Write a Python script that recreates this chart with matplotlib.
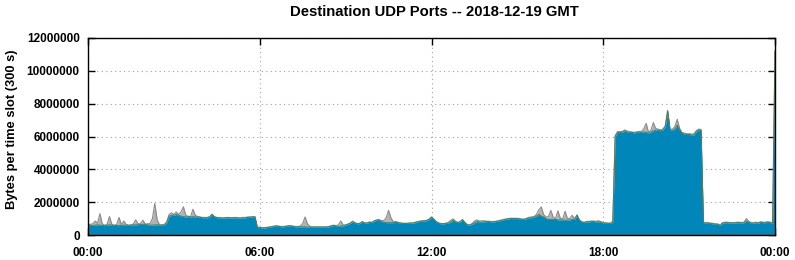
import numpy as np
import matplotlib.pyplot as plt

plt.rcParams['font.family'] = ['Liberation Sans', 'DejaVu Sans']
plt.rcParams['font.weight'] = 'bold'

# bytes per 5-minute slot (millions), one row per hour, main port (blue)
blue = [
    [0.62, 0.60, 0.58, 0.60, 0.62, 0.60, 0.58, 0.57, 0.60, 0.62, 0.60, 0.58],
    [0.58, 0.57, 0.58, 0.60, 0.60, 0.58, 0.60, 0.62, 0.62, 0.63, 0.64, 0.65],
    [0.65, 0.62, 0.60, 0.60, 0.62, 0.62, 0.60, 0.60, 0.62, 0.75, 1.15, 1.20],
    [1.20, 1.25, 1.20, 1.15, 1.12, 1.10, 1.12, 1.10, 1.12, 1.10, 1.10, 1.08],
    [1.05, 1.05, 1.05, 1.10, 1.25, 1.10, 1.05, 1.05, 1.03, 1.03, 1.05, 1.05],
    [1.03, 1.05, 1.05, 1.03, 1.03, 1.05, 1.05, 1.08, 1.08, 1.10, 1.10, 0.45],
    [0.45, 0.43, 0.43, 0.45, 0.47, 0.50, 0.52, 0.55, 0.52, 0.50, 0.50, 0.52],
    [0.55, 0.55, 0.52, 0.50, 0.50, 0.50, 0.50, 0.50, 0.48, 0.48, 0.48, 0.48],
    [0.48, 0.48, 0.48, 0.48, 0.48, 0.50, 0.55, 0.58, 0.55, 0.52, 0.55, 0.55],
    [0.60, 0.65, 0.72, 0.80, 0.72, 0.68, 0.70, 0.80, 0.72, 0.72, 0.78, 0.75],
    [0.85, 0.90, 0.90, 0.82, 0.78, 0.75, 0.75, 0.75, 0.75, 0.78, 0.75, 0.72],
    [0.70, 0.70, 0.70, 0.72, 0.72, 0.75, 0.80, 0.82, 0.85, 0.85, 0.88, 0.95],
    [1.08, 0.95, 0.80, 0.72, 0.68, 0.68, 0.70, 0.72, 0.78, 0.90, 0.80, 0.75],
    [0.80, 0.92, 0.75, 0.62, 0.60, 0.65, 0.75, 0.82, 0.80, 0.78, 0.80, 0.82],
    [0.82, 0.80, 0.80, 0.82, 0.85, 0.88, 0.92, 0.95, 0.98, 1.00, 1.00, 1.00],
    [1.00, 0.98, 0.95, 0.95, 1.00, 1.05, 1.05, 1.08, 1.15, 1.25, 1.15, 1.10],
    [1.00, 0.95, 0.95, 0.95, 0.95, 0.92, 0.92, 0.92, 0.90, 0.90, 0.92, 0.95],
    [0.95, 1.20, 0.90, 0.78, 0.75, 0.80, 0.80, 0.82, 0.82, 0.80, 0.80, 0.78],
    [0.72, 0.72, 0.70, 0.70, 0.80, 6.00, 6.25, 6.25, 6.25, 6.35, 6.28, 6.25],
    [6.25, 6.22, 6.25, 6.28, 6.25, 6.28, 6.25, 6.20, 6.28, 6.35, 6.38, 6.40],
    [6.35, 6.40, 6.60, 7.55, 6.40, 6.38, 6.45, 6.70, 6.40, 6.20, 6.15, 6.12],
    [6.12, 6.10, 6.10, 6.30, 6.40, 6.38, 0.75, 0.72, 0.72, 0.70, 0.68, 0.65],
    [0.65, 0.58, 0.72, 0.75, 0.75, 0.73, 0.73, 0.73, 0.75, 0.75, 0.73, 0.75],
    [0.85, 0.78, 0.72, 0.72, 0.75, 0.72, 0.78, 0.75, 0.75, 0.78, 0.75, 0.72],
]
blue_midnight = 11.2

# other ports (gray) stacked on top
gray = [
    [0.02, 0.05, 0.10, 0.25, 0.10, 0.70, 0.10, 0.02, 0.05, 0.50, 0.05, 0.02],
    [0.05, 0.50, 0.05, 0.25, 0.05, 0.02, 0.02, 0.05, 0.30, 0.05, 0.05, 0.25],
    [0.02, 0.02, 0.05, 0.40, 1.30, 0.30, 0.02, 0.02, 0.02, 0.05, 0.10, 0.15],
    [0.05, 0.15, 0.05, 0.25, 0.60, 0.10, 0.02, 0.02, 0.45, 0.10, 0.02, 0.02],
    [0.02, 0.02, 0.02, 0.02, 0.02, 0.02, 0.02, 0.02, 0.02, 0.02, 0.02, 0.02],
    [0.02, 0.02, 0.02, 0.02, 0.02, 0.02, 0.02, 0.02, 0.02, 0.02, 0.02, 0.02],
    [0.02, 0.02, 0.02, 0.02, 0.02, 0.02, 0.02, 0.02, 0.02, 0.02, 0.02, 0.02],
    [0.02, 0.02, 0.02, 0.02, 0.02, 0.05, 0.20, 0.60, 0.20, 0.05, 0.02, 0.02],
    [0.02, 0.02, 0.02, 0.02, 0.02, 0.02, 0.02, 0.02, 0.02, 0.10, 0.30, 0.05],
    [0.02, 0.02, 0.02, 0.05, 0.02, 0.02, 0.02, 0.02, 0.02, 0.02, 0.02, 0.02],
    [0.02, 0.02, 0.05, 0.05, 0.10, 0.30, 0.75, 0.30, 0.05, 0.05, 0.02, 0.02],
    [0.02, 0.02, 0.02, 0.02, 0.02, 0.02, 0.02, 0.02, 0.02, 0.02, 0.02, 0.02],
    [0.02, 0.02, 0.02, 0.02, 0.02, 0.02, 0.02, 0.05, 0.10, 0.08, 0.05, 0.02],
    [0.02, 0.03, 0.02, 0.02, 0.02, 0.05, 0.10, 0.10, 0.05, 0.03, 0.03, 0.02],
    [0.02, 0.02, 0.02, 0.02, 0.02, 0.02, 0.02, 0.02, 0.02, 0.02, 0.02, 0.02],
    [0.02, 0.02, 0.02, 0.02, 0.03, 0.03, 0.05, 0.05, 0.10, 0.20, 0.50, 0.15],
    [0.10, 0.15, 0.50, 0.15, 0.05, 0.55, 0.10, 0.05, 0.55, 0.10, 0.10, 0.25],
    [0.03, 0.03, 0.03, 0.03, 0.03, 0.03, 0.03, 0.03, 0.03, 0.03, 0.03, 0.03],
    [0.03, 0.03, 0.03, 0.03, 0.03, 0.05, 0.05, 0.05, 0.05, 0.05, 0.05, 0.05],
    [0.03, 0.03, 0.03, 0.03, 0.05, 0.20, 0.55, 0.05, 0.10, 0.50, 0.10, 0.05],
    [0.05, 0.05, 0.05, 0.05, 0.05, 0.05, 0.15, 0.35, 0.10, 0.05, 0.05, 0.05],
    [0.05, 0.05, 0.05, 0.05, 0.05, 0.05, 0.03, 0.03, 0.03, 0.03, 0.03, 0.03],
    [0.03, 0.03, 0.03, 0.03, 0.03, 0.03, 0.03, 0.03, 0.03, 0.03, 0.03, 0.03],
    [0.15, 0.05, 0.03, 0.03, 0.03, 0.03, 0.03, 0.03, 0.03, 0.03, 0.03, 0.03],
]
gray_midnight = 0.0

# small orange layer between blue and gray (slot index -> millions)
orange_bits = {25: 0.04, 26: 0.05, 165: 0.05, 166: 0.04, 189: 0.08,
               190: 0.06, 194: 0.05, 214: 0.04}

xticks = [0, 6, 12, 18, 24]
xlabels = ["00:00", "06:00", "12:00", "18:00", "00:00"]
yticks = [0, 2000000, 4000000, 6000000, 8000000, 10000000, 12000000]

b = np.array([v for row in blue for v in row] + [blue_midnight]) * 1e6
g = np.array([v for row in gray for v in row] + [gray_midnight]) * 1e6
o = np.zeros(len(b))
for k, v in orange_bits.items():
    o[k] = v * 1e6
x = np.arange(len(b)) / 12.0

BLUE = "#0086b8"

fig = plt.figure(figsize=(7.95, 2.6), dpi=100)
ax = fig.add_axes([88 / 795, 25 / 260, 687 / 795, 197 / 260])

ax.fill_between(x, b + o, b + o + g, color="#b2b2b2", lw=0, zorder=2)
ax.plot(x, b + o + g, color="#8a8a8a", lw=0.8, zorder=3)
ax.fill_between(x, b, b + o, color="#d2691e", lw=0, zorder=3)
ax.fill_between(x, 0, b, color=BLUE, lw=0, zorder=4)
ax.plot(x, b, color="#5d7a52", lw=0.7, zorder=5)

ax.set_xlim(0, 24)
ax.set_ylim(0, 12000000)
ax.set_xticks(xticks)
ax.set_xticklabels(xlabels)
ax.set_yticks(yticks)
ax.set_yticklabels([str(t) for t in yticks])
ax.tick_params(direction="in", length=5, width=1, top=True, right=True,
               labelsize=8.5, pad=6)
ax.tick_params(axis="x", pad=9)
ax.grid(True, color="#a0a0a0", linestyle=(0, (1, 3)), lw=0.8, zorder=1)
ax.set_axisbelow(True)
for s in ax.spines.values():
    s.set_linewidth(1)
    s.set_zorder(6)

fig.text(434 / 795, 1 - 12 / 260, "Destination UDP Ports -- 2018-12-19 GMT",
         ha="center", va="center", fontsize=10.7, fontweight="bold")
fig.text(12 / 795, 1 - 129 / 260, "Bytes per time slot (300 s)", rotation=90,
         ha="center", va="center", fontsize=9.3, fontweight="bold")

fig.savefig("out.png", dpi=100)
